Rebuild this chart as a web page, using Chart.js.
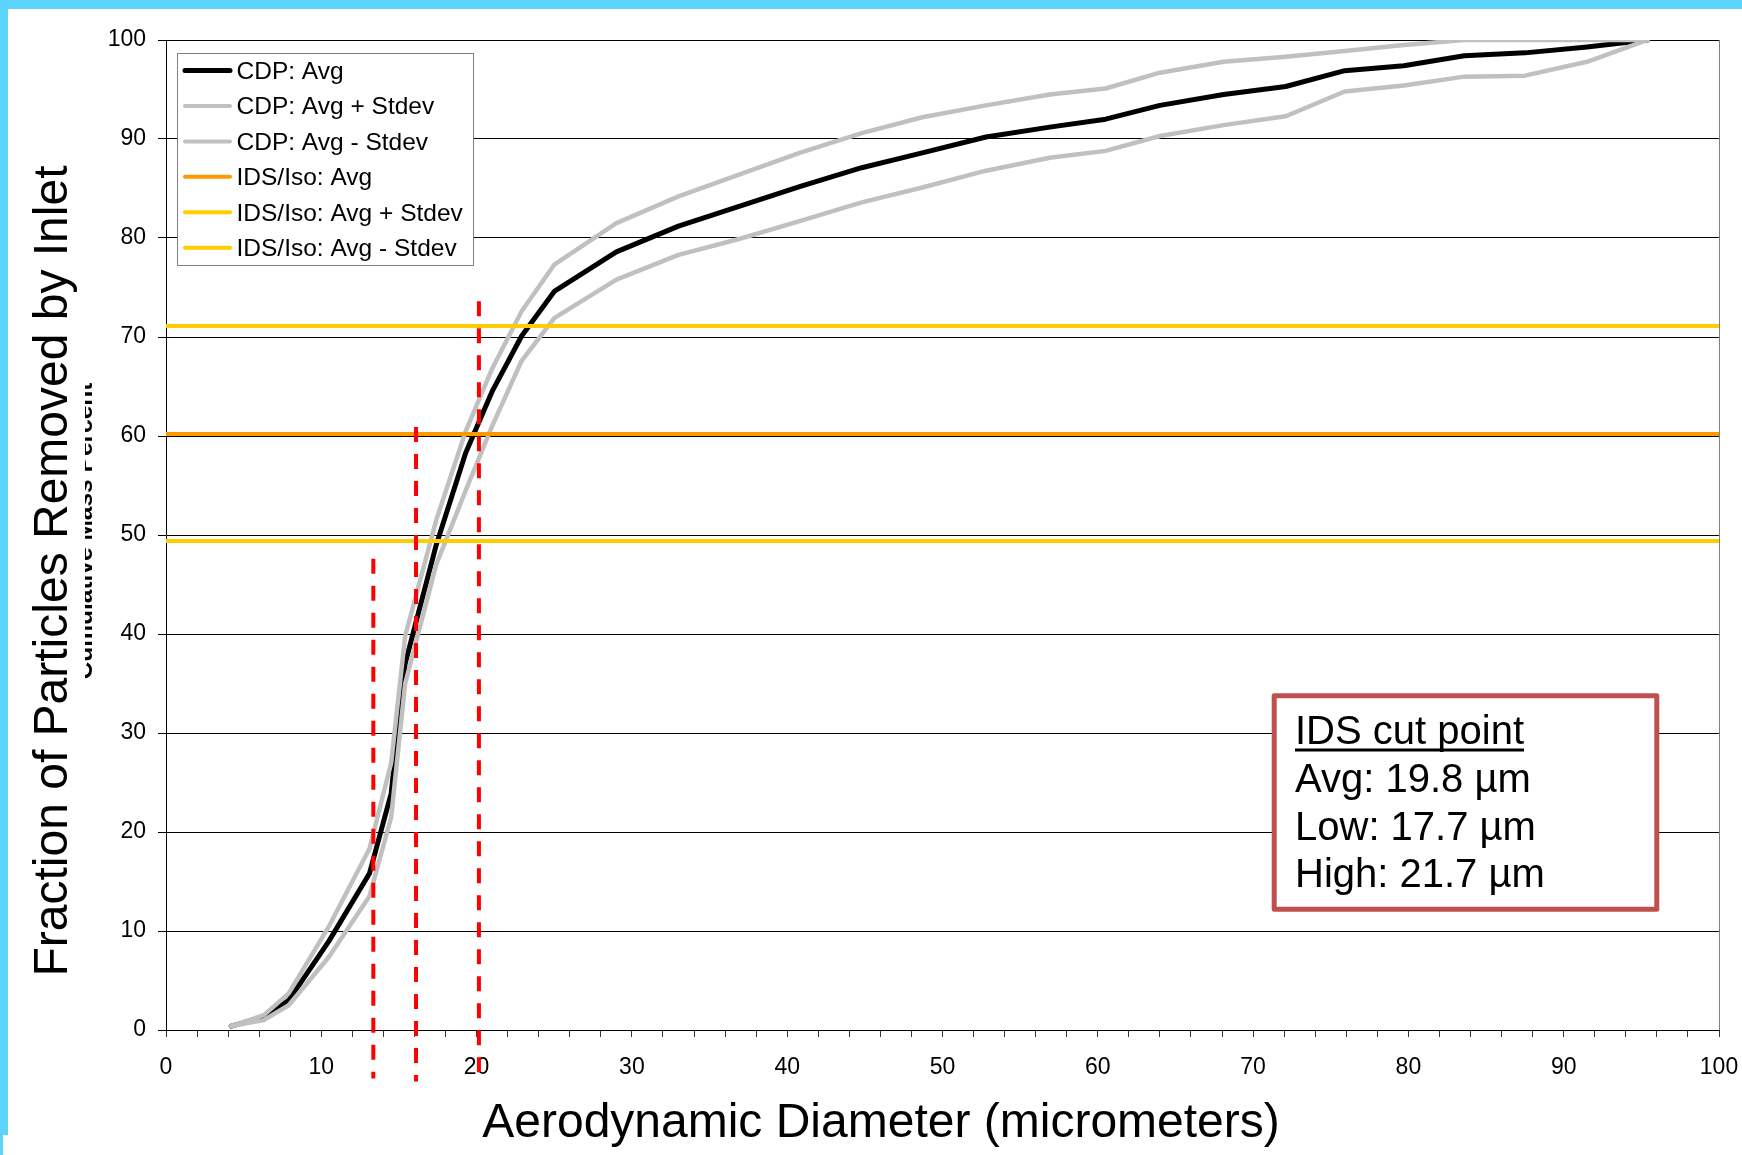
<!DOCTYPE html>
<html>
<head>
<meta charset="utf-8">
<script src="https://cdn.jsdelivr.net/npm/chart.js@4.4.1/dist/chart.umd.min.js"></script>
<style>
html,body{margin:0;padding:0;background:#fff;overflow:hidden}
#wrap{position:relative;width:1742px;height:1155px;background:#fff}
#c{position:absolute;left:0;top:0}
.band{position:absolute;background:#5CD4FE}
</style>
</head>
<body>
<div id="wrap">
<canvas id="c" width="1742" height="1155" style="width:1742px;height:1155px"></canvas>
<div class="band" style="left:0;top:0;width:1742px;height:9px"></div>
<div class="band" style="left:0;top:0;width:8px;height:1135px"></div>
<div class="band" style="left:0;top:1135px;width:3px;height:20px"></div>
</div>
<script>
// ---- Data ----
const diameters = [4.2, 6.3, 7.9, 10.5, 13.1, 14.5, 15.4, 17.4, 19.3, 21.0, 22.9, 25.0, 29.0, 33.0, 36.9, 40.8, 44.8, 48.7, 52.8, 56.9, 60.5, 64.0, 68.1, 72.1, 75.9, 79.7, 83.6, 87.5, 91.5, 95.4];
const cdpAvg   = [0.4, 1.3, 3.0, 9.0, 15.8, 23.9, 37.0, 49.0, 58.3, 64.5, 70.1, 74.6, 78.6, 81.2, 83.2, 85.2, 87.1, 88.6, 90.2, 91.2, 92.0, 93.4, 94.5, 95.3, 96.9, 97.4, 98.4, 98.7, 99.3, 100];
const cdpPlus  = [0.4, 1.5, 3.7, 10.5, 18.3, 27.0, 39.8, 51.5, 60.5, 66.8, 72.6, 77.3, 81.5, 84.2, 86.4, 88.6, 90.6, 92.2, 93.4, 94.5, 95.1, 96.7, 97.8, 98.3, 98.9, 99.5, 100, 100, 100, 100];
const cdpMinus = [0.4, 1.0, 2.5, 7.4, 13.5, 21.5, 35.0, 47.0, 54.5, 61.0, 67.6, 71.9, 75.8, 78.3, 79.9, 81.7, 83.6, 85.1, 86.8, 88.1, 88.8, 90.3, 91.4, 92.3, 94.8, 95.4, 96.3, 96.4, 97.8, 100];

const idsRangeX = [0, 100];
const idsAvg   = [60.2, 60.2];
const idsPlus  = [71.1, 71.1];
const idsMinus = [49.4, 49.4];

const cutLineX      = [13.35, 16.1, 20.15];
const cutLineTop    = [47.6, 60.9, 73.6];
const cutLineBottom = [-4.9, -5.2, -4.5];

const seriesLabels = ['CDP: Avg', 'CDP: Avg + Stdev', 'CDP: Avg - Stdev', 'IDS/Iso: Avg', 'IDS/Iso: Avg + Stdev', 'IDS/Iso: Avg - Stdev'];
const xTitle = 'Aerodynamic Diameter (micrometers)';
const yTitle = 'Fraction of Particles Removed by Inlet';
const yHiddenTitle = 'Cumulative Mass Percent';
const cutBoxTitle = 'IDS cut point';
const cutBoxLines = ['Avg: 19.8 \u00b5m', 'Low: 17.7 \u00b5m', 'High: 21.7 \u00b5m'];

// ---- Build ----
const FONT = '"Liberation Sans", Arial, sans-serif';
Chart.defaults.font.family = FONT;
Chart.defaults.color = '#000';

const pts = (xs, ys) => xs.map((x, i) => ({x: x, y: ys[i]}));
const curveStyle = (label, ys, color, w) => ({
  label, data: pts(diameters, ys), borderColor: color, backgroundColor: color,
  borderWidth: w, pointRadius: 0, tension: 0, borderJoinStyle: 'round', borderCapStyle: 'round', fill: false
});
const hLine = (label, ys, color) => ({
  label, data: pts(idsRangeX, ys), borderColor: color, backgroundColor: color,
  borderWidth: 4, pointRadius: 0, fill: false
});

const datasets = [
  curveStyle(seriesLabels[0], cdpAvg, '#000000', 5),
  curveStyle(seriesLabels[1], cdpPlus, '#C0C0C0', 4.5),
  curveStyle(seriesLabels[2], cdpMinus, '#C0C0C0', 4.5),
  hLine(seriesLabels[3], idsAvg, '#FF9900'),
  hLine(seriesLabels[4], idsPlus, '#FFCC00'),
  hLine(seriesLabels[5], idsMinus, '#FFCC00')
];
cutLineX.forEach((x, i) => {
  datasets.push({
    label: 'cut' + i,
    data: [{x: x, y: cutLineTop[i]}, {x: x, y: cutLineBottom[i]}],
    borderColor: '#FF0000', borderWidth: 4, borderDash: [15, 12],
    pointRadius: 0, fill: false, clip: false
  });
});
datasets.forEach((d, i) => { d.order = datasets.length - i; });

const decorPlugin = {
  id: 'decor',
  beforeDatasetsDraw(chart) {
    const ctx = chart.ctx, a = chart.chartArea, xs = chart.scales.x;
    const xr = Math.round(xs.getPixelForValue(100)) + 0.5;
    ctx.save();
    ctx.strokeStyle = '#808080'; ctx.lineWidth = 1;
    ctx.beginPath(); ctx.moveTo(xr, a.top); ctx.lineTo(xr, a.bottom); ctx.stroke();
    ctx.restore();
  },
  afterDraw(chart) {
    const ctx = chart.ctx;
    ctx.save();
    // Legend
    const lx = 177.5, ly = 53.5, lw = 296, lh = 212;
    ctx.fillStyle = '#fff'; ctx.fillRect(lx, ly, lw, lh);
    ctx.strokeStyle = '#808080'; ctx.lineWidth = 1; ctx.strokeRect(lx, ly, lw, lh);
    ctx.font = '24.5px ' + FONT; ctx.textBaseline = 'middle'; ctx.textAlign = 'left';
    for (let i = 0; i < 6; i++) {
      const ds = chart.data.datasets[i];
      const y = 70.5 + i * 35.45;
      ctx.strokeStyle = ds.borderColor; ctx.lineWidth = i === 0 ? 5 : 4; ctx.lineCap = 'round';
      ctx.beginPath(); ctx.moveTo(185, y); ctx.lineTo(230, y); ctx.stroke();
      ctx.fillStyle = '#000'; ctx.fillText(ds.label, 236.5, y + 1.5);
    }
    // Cut point box
    ctx.lineCap = 'butt';
    ctx.fillStyle = '#fff'; ctx.fillRect(1274, 696, 383, 213);
    ctx.strokeStyle = '#C0504D'; ctx.lineWidth = 5; ctx.lineJoin = 'round';
    ctx.strokeRect(1274.2, 695.8, 382.6, 213.4);
    ctx.fillStyle = '#000'; ctx.font = '40px ' + FONT; ctx.textBaseline = 'alphabetic';
    ctx.fillText(cutBoxTitle, 1295, 744.3);
    const tw = ctx.measureText(cutBoxTitle).width;
    ctx.fillRect(1295, 748.5, tw, 3);
    cutBoxLines.forEach((t, i) => ctx.fillText(t, 1295, 791.7 + i * 47.8));
    // Hidden legacy axis title, partly covered
    ctx.save();
    ctx.translate(92, 531); ctx.rotate(-Math.PI / 2);
    ctx.font = 'bold 24.5px ' + FONT; ctx.textAlign = 'center';
    ctx.fillText(yHiddenTitle, 0, 0);
    ctx.restore();
    ctx.fillStyle = '#fff'; ctx.fillRect(10, 370, 75, 330);
    // Y title
    ctx.fillStyle = '#000';
    ctx.save();
    ctx.translate(66.7, 571); ctx.rotate(-Math.PI / 2);
    ctx.font = '48px ' + FONT; ctx.textAlign = 'center'; ctx.textBaseline = 'alphabetic';
    ctx.fillText(yTitle, 0, 0);
    ctx.restore();
    // X title
    ctx.font = '48px ' + FONT; ctx.textAlign = 'center'; ctx.textBaseline = 'alphabetic';
    ctx.fillText(xTitle, 881, 1137);
    ctx.restore();
  }
};

new Chart(document.getElementById('c'), {
  type: 'line',
  data: { datasets },
  options: {
    responsive: false, animation: false, events: [],
    layout: { padding: { top: 40, right: 23, bottom: 0, left: 0 } },
    plugins: { legend: { display: false }, tooltip: { enabled: false }, title: { display: false } },
    scales: {
      x: {
        type: 'linear', min: 0, max: 100,
        afterFit(s) { s.height = 125; s.paddingLeft = 0; s.paddingRight = 0; },
        ticks: {
          stepSize: 2, autoSkip: false, maxRotation: 0, padding: 17,
          font: { size: 23 }, color: '#000',
          callback: v => (Math.round(v) % 10 === 0 ? String(Math.round(v)) : '')
        },
        grid: { drawOnChartArea: false, drawTicks: true, tickLength: 7, color: '#000', tickColor: '#333' },
        border: { display: true, color: '#000', width: 1 }
      },
      y: {
        type: 'linear', min: 0, max: 100,
        afterFit(s) { s.width = 166; s.paddingTop = 0; s.paddingBottom = 0; },
        ticks: { stepSize: 10, padding: 12, font: { size: 23 }, color: '#000' },
        grid: { color: '#000', lineWidth: 1, drawTicks: true, tickLength: 8, tickColor: '#000' },
        border: { display: true, color: '#000', width: 1 }
      }
    }
  },
  plugins: [decorPlugin]
});
</script>
</body>
</html>
